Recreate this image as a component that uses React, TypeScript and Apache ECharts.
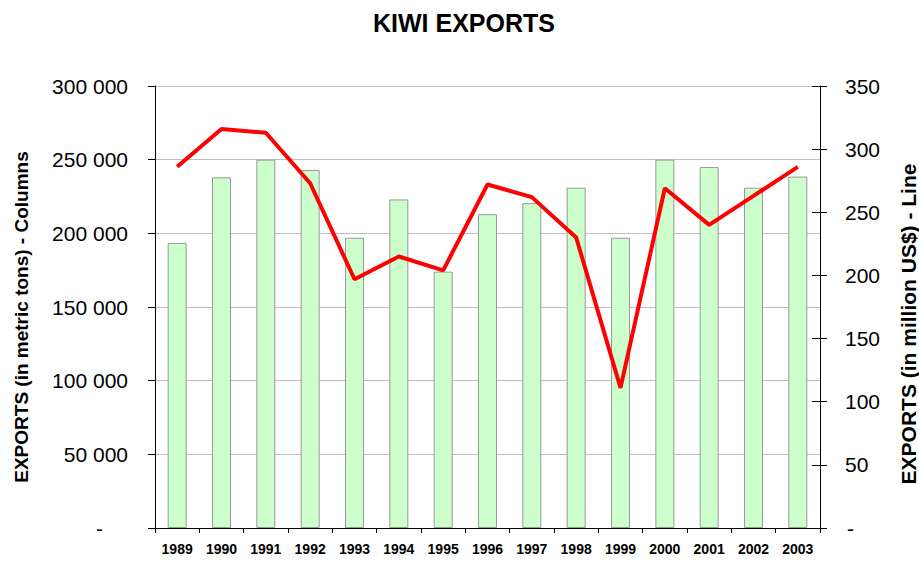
import React, { useEffect, useRef } from "react";
import * as echarts from "echarts";

const years = ["1989", "1990", "1991", "1992", "1993", "1994", "1995", "1996", "1997", "1998", "1999", "2000", "2001", "2002", "2003"];
const exportTons = [193500, 238000, 250000, 243000, 197000, 223000, 174000, 213000, 220500, 231000, 197000, 250000, 245000, 231000, 238500];
const exportUsd = [286, 316, 313, 273, 197, 215, 204, 272, 262, 230, 111, 269, 240, 263, 286];

const titleText = "KIWI EXPORTS";
const leftName = "EXPORTS (in metric tons) - Columns";
const rightName = "EXPORTS (in million US$) - Line";

const FONT = '"Liberation Sans", Arial, sans-serif';

function fmtThousands(v: number): string {
  return String(v).replace(/\B(?=(\d{3})+(?!\d))/g, " ");
}

export default function App() {
  const ref = useRef<HTMLDivElement>(null);
  useEffect(() => {
    if (!ref.current) return;
    const chart = echarts.init(ref.current, undefined, { renderer: "svg" });
    chart.setOption({
      animation: false,
      backgroundColor: "#ffffff",
      textStyle: { fontFamily: FONT },
      grid: { left: 155, right: 99, top: 86, bottom: 33, containLabel: false },
      graphic: [
        {
          type: "text",
          x: 464,
          y: 23,
          style: {
            text: titleText,
            font: `bold 25px ${FONT}`,
            fill: "#000",
            textAlign: "center",
            textVerticalAlign: "middle",
          },
        },
        {
          type: "text",
          x: 21,
          y: 317,
          rotation: Math.PI / 2,
          style: {
            text: leftName,
            font: `bold 19px ${FONT}`,
            fill: "#000",
            textAlign: "center",
            textVerticalAlign: "middle",
          },
        },
        {
          type: "text",
          x: 908,
          y: 324,
          rotation: Math.PI / 2,
          style: {
            text: rightName,
            font: `bold 21px ${FONT}`,
            fill: "#000",
            textAlign: "center",
            textVerticalAlign: "middle",
          },
        },
      ],
      xAxis: {
        type: "category",
        data: years,
        boundaryGap: true,
        axisLine: { show: true, lineStyle: { color: "#000", width: 1 } },
        axisTick: { show: true, inside: false, length: 5, interval: 0, lineStyle: { color: "#000" } },
        axisLabel: {
          interval: 0,
          margin: 14,
          fontSize: 14,
          fontWeight: "bold",
          color: "#000",
          fontFamily: FONT,
        },
        splitLine: { show: false },
      },
      yAxis: [
        {
          type: "value",
          position: "left",
          min: 0,
          max: 300000,
          interval: 50000,
          axisLine: { show: true, lineStyle: { color: "#000", width: 1 } },
          axisTick: { show: true, inside: false, length: 7, lineStyle: { color: "#000" } },
          axisLabel: {
            margin: 27,
            fontSize: 21,
            color: "#000",
            fontFamily: FONT,
            formatter: (v: number) => (v === 0 ? "{d|-}" : fmtThousands(v)),
            rich: {
              d: { fontSize: 21, color: "#000", fontFamily: FONT, padding: [0, 25, 0, 0] },
            },
          },
          splitLine: { show: true, lineStyle: { color: "#bfbfbf", width: 1 } },
        },
        {
          type: "value",
          position: "right",
          min: 0,
          max: 350,
          interval: 50,
          axisLine: { show: true, lineStyle: { color: "#000", width: 1 } },
          axisTick: { show: true, inside: false, length: 7, lineStyle: { color: "#000" } },
          axisLabel: {
            margin: 25,
            fontSize: 21,
            color: "#000",
            fontFamily: FONT,
            formatter: (v: number) => (v === 0 ? "{d|-}" : String(v)),
            rich: {
              d: { fontSize: 21, color: "#000", fontFamily: FONT, padding: [0, 0, 0, 2] },
            },
          },
          splitLine: { show: false },
        },
        {
          type: "value",
          position: "right",
          min: 0,
          max: 350,
          interval: 50,
          axisLine: { show: false },
          axisTick: { show: true, inside: true, length: 8, lineStyle: { color: "#000" } },
          axisLabel: { show: false },
          splitLine: { show: false },
        },
      ],
      series: [
        {
          name: "Columns",
          type: "bar",
          yAxisIndex: 0,
          data: exportTons,
          barWidth: 19,
          itemStyle: { color: "#ccffcc", borderColor: "#999999", borderWidth: 1 },
          z: 2,
        },
        {
          name: "Line",
          type: "line",
          yAxisIndex: 1,
          data: exportUsd,
          symbol: "none",
          lineStyle: { color: "#ff0000", width: 4 },
          z: 3,
        },
      ],
    });
    return () => chart.dispose();
  }, []);
  return (
    <div
      ref={ref}
      style={{ position: "fixed", left: 0, top: 0, width: 919, height: 561, background: "#fff" }}
    />
  );
}
